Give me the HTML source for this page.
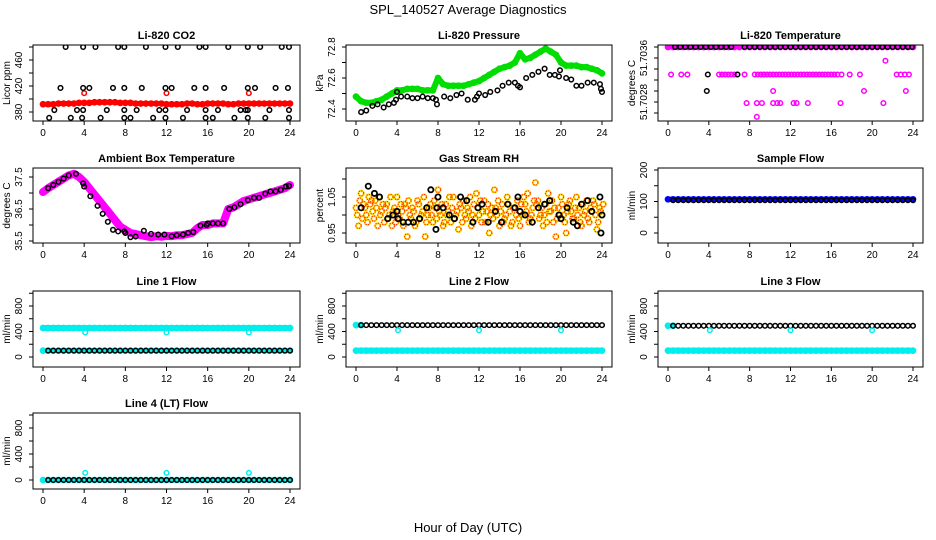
<!DOCTYPE html>
<html><head><meta charset="utf-8"><style>
html,body{margin:0;padding:0;background:#fff;}
svg{display:block;font-family:"Liberation Sans",sans-serif;}
</style></head><body>
<svg id="chart" width="936" height="540" viewBox="0 0 936 540" xmlns="http://www.w3.org/2000/svg">
<text x="468" y="14" text-anchor="middle" font-size="13">SPL_140527  Average Diagnostics</text>
<text x="468" y="532" text-anchor="middle" font-size="13">Hour of Day (UTC)</text>
</svg>
<script>
// ---------- data ----------
const xTicks=[0,4,8,12,16,20,24];
const co2RedValues=[392,392,392,393,393,393,393,394,394,394,395,395,395,395,395,394,394,394,393,393,393,393,393,393,392,392,392,392,393,393,392,392,393,393,393,393,392,392,393,393,393,393,393,393,393,393,393,393,393];
const co2RedOutHours=[4,12,20];
const co2RedOutValues=[409,409,409];
const co2BlackHours=[2.2,3.9,5.1,7.3,7.9,10.0,11.9,13.1,15.2,15.8,18.0,19.9,21.1,23.2,23.9, 1.7,3.9,4.5,6.8,7.9,9.6,11.9,12.5,14.7,15.8,17.6,19.9,20.6,22.6,23.8, 1.1,3.3,3.9,6.2,7.9,9.1,11.3,11.9,14.0,15.8,17.0,19.2,19.7,19.9,22.0,23.9, 0.6,2.7,3.8,5.6,7.9,8.5,10.7,11.9,13.6,15.8,16.5,18.6,19.9,21.6,23.9];
const co2BlackValues=[480,480,480,480,480,480,480,480,480,480,480,480,480,480,480, 417,417,417,417,417,417,417,417,417,417,417,417,417,417,417, 383,383,383,383,383,383,383,383,383,383,383,383,383,383,383,383, 371,371,371,371,371,371,371,371,371,371,371,371,371,371,371];
const presGreen=[72.48,72.45,72.44,72.44,72.45,72.46,72.48,72.50,72.52,72.52,72.53,72.53,72.53,72.52,72.52,72.52,72.60,72.56,72.55,72.55,72.55,72.55,72.56,72.57,72.58,72.60,72.62,72.64,72.66,72.67,72.68,72.70,72.76,72.72,72.73,72.75,72.77,72.79,72.77,72.75,72.70,72.68,72.68,72.68,72.67,72.67,72.66,72.65,72.63];
const presBlackHours=[0.5,1,1.6,2.1,2.7,3.2,3.7,3.9,4,4.4,5,5.5,6,6.5,7,7.5,7.8,7.9,8.6,9.2,9.8,10.3,10.9,11.6,11.8,12,12.6,13.1,13.8,14.3,14.9,15.5,15.8,16,16.6,17.2,17.8,18.4,18.9,19.4,19.8,19.9,20.5,21,21.5,22,22.6,23.2,23.8,23.9,24];
const presBlackValues=[72.38,72.39,72.42,72.43,72.41,72.43,72.44,72.46,72.51,72.48,72.48,72.47,72.47,72.48,72.47,72.47,72.46,72.43,72.48,72.47,72.49,72.50,72.46,72.46,72.48,72.50,72.49,72.51,72.52,72.55,72.57,72.57,72.55,72.54,72.60,72.62,72.64,72.66,72.62,72.62,72.61,72.65,72.60,72.59,72.55,72.55,72.57,72.57,72.56,72.53,72.51];
const tempTopValues=[51.7038,51.7038,51.7038,51.7038,51.7038,51.7038,51.7038,51.7038,51.7038,51.7038,51.7038,51.7038,51.7038,51.7038,51.7038,51.7038,51.7038,51.7038,51.7038,51.7038,51.7038,51.7038,51.7038,51.7038,51.7038,51.7038,51.7038,51.7038,51.7038,51.7038,51.7038,51.7038,51.7038,51.7038,51.7038,51.7038,51.7038,51.7038,51.7038,51.7038,51.7038,51.7038,51.7038,51.7038,51.7038,51.7038,51.7038,51.7038,51.7038];
const tempMagHours=[0.3,1.3,1.9,5.0,5.3,5.6,5.9,6.2,6.5,6.8,7.5,8.5,8.8,9.1,9.4,9.7,10.0,10.3,10.6,10.9,11.2,11.5,11.8,12.1,12.4,12.7,13.0,13.3,13.6,13.9,14.2,14.5,14.8,15.1,15.4,15.7,16.0,16.3,16.6,17.0,17.8,18.8,22.4,22.8,23.2,23.6,10.3,19.2,23.3,7.7,8.7,9.2,10.3,10.7,11.0,12.3,12.6,13.7,16.9,21.1,8.7,21.3];
const tempMagValues=[51.7033,51.7033,51.7033,51.7033,51.7033,51.7033,51.7033,51.7033,51.7033,51.7033,51.7033,51.7033,51.7033,51.7033,51.7033,51.7033,51.7033,51.7033,51.7033,51.7033,51.7033,51.7033,51.7033,51.7033,51.7033,51.7033,51.7033,51.7033,51.7033,51.7033,51.7033,51.7033,51.7033,51.7033,51.7033,51.7033,51.7033,51.7033,51.7033,51.7033,51.7033,51.7033,51.7033,51.7033,51.7033,51.7033,51.7030,51.7030,51.7030,51.70278,51.70278,51.70278,51.70278,51.70278,51.70278,51.70278,51.70278,51.70278,51.70278,51.70278,51.70253,51.70355];
const tempBlackHours=[0.7,1.2,1.7,2.2,2.7,3.2,3.7,4.2,4.7,5.2,5.7,6.2,7.5,8.0,8.5,9.0,9.5,10.0,10.5,11.0,11.5,12.0,12.5,13.0,13.5,14.0,14.5,15.0,15.5,16.0,16.5,17.0,17.5,18.0,18.5,19.0,19.5,20.0,20.5,21.0,21.5,22.0,22.5,23.0,23.5,23.9,3.9,6.8,3.8];
const tempBlackValues=[51.7038,51.7038,51.7038,51.7038,51.7038,51.7038,51.7038,51.7038,51.7038,51.7038,51.7038,51.7038,51.7038,51.7038,51.7038,51.7038,51.7038,51.7038,51.7038,51.7038,51.7038,51.7038,51.7038,51.7038,51.7038,51.7038,51.7038,51.7038,51.7038,51.7038,51.7038,51.7038,51.7038,51.7038,51.7038,51.7038,51.7038,51.7038,51.7038,51.7038,51.7038,51.7038,51.7038,51.7038,51.7038,51.7038,51.7033,51.7033,51.7030];
const ambMagenta=[37.03,37.15,37.25,37.35,37.45,37.55,37.60,37.50,37.35,37.15,36.95,36.75,36.55,36.35,36.15,35.95,35.85,35.75,35.72,35.68,35.65,35.62,35.65,35.63,35.66,35.65,35.68,35.68,35.72,35.75,35.9,36.0,36.0,36.05,36.05,36.05,36.5,36.55,36.65,36.75,36.8,36.85,36.9,36.95,37.0,37.05,37.1,37.15,37.25];
const ambBlackHours=[0.5,1,1.5,2,2.5,3.2,3.9,4.0,4.6,5.3,5.8,6.3,6.8,7.3,7.9,8.0,8.5,9.0,9.8,10.5,11.2,11.8,12.5,13.0,13.6,14.1,14.6,15.3,15.9,16.0,16.5,17.0,17.5,18.1,18.6,19.2,19.9,20.5,21.0,21.6,22.1,22.6,23.1,23.6,23.9];
const ambBlackValues=[37.15,37.25,37.35,37.45,37.55,37.6,37.3,37.2,36.9,36.6,36.35,36.1,35.85,35.8,35.8,35.75,35.62,35.64,35.82,35.72,35.70,35.7,35.65,35.68,35.7,35.75,35.78,35.98,36.0,36.05,36.05,36.05,36.05,36.5,36.55,36.65,36.78,36.85,36.85,36.98,37.05,37.05,37.1,37.2,37.22];
const rhValues=[1.02,0.97,1.06,1.03,1.00,1.05,1.04,0.99,1.02,1.05,1.01,0.98,1.03,1.00,0.97,1.02,1.05,0.99,1.01,1.03,0.94,1.00,1.02,0.97,1.04,0.99,1.01,0.94,1.00,1.03,0.98,1.02,1.07,1.00,0.97,1.03,1.01,0.98,1.05,1.00,0.96,1.02,1.04,0.99,1.01,0.97,1.03,1.06,1.00,0.98,1.04,1.01,0.95,1.02,1.07,1.00,0.97,1.03,0.99,1.05,1.01,0.98,1.02,1.04,0.97,1.00,1.03,1.06,0.99,1.02,1.09,1.04,1.00,0.97,1.03,1.06,1.01,0.98,0.94,1.02,1.05,1.00,0.95,1.03,1.01,0.99,1.05,1.02,0.97,1.00,1.04,0.98,1.01,1.03,0.96,1.02,1.00];
const rhValues2=[1.00,1.04,0.99,1.02,0.98,1.03,1.01,1.04,0.97,1.00,1.03,1.02,0.99,1.05,1.01,0.98,1.00,1.03,0.97,1.02,1.04,0.99,1.01,0.98,1.03,1.00,1.05,0.98,1.02,1.00,1.04,0.99,1.01,1.03,0.98,1.00,1.05,1.02,0.99,1.01,1.03,0.98,1.00,1.02,1.05,1.00,0.99,1.02,1.04,1.01,0.98,1.03,1.00,0.99,1.02,1.04,1.01,0.98,1.00,1.03,0.97,1.02,1.00,0.99,1.03,1.05,1.01,0.98,1.00,1.04,1.03,0.99,1.02,1.00,0.98,1.01,1.04,1.02,0.99,1.00,1.03,0.98,1.01,1.04,0.99,1.02,1.00,0.98,1.03,1.01,0.99,1.02,1.04,1.00,0.98,1.01,1.03];
const rhBlackHours=[0.5,1.2,1.8,2.3,3.1,3.6,4.0,4.1,4.6,5.1,5.6,6.2,6.9,7.3,7.8,7.9,8.0,8.5,9.1,9.6,10.2,10.8,11.4,11.9,12.3,12.9,13.6,14.2,14.8,15.5,15.8,16.0,16.5,17.2,17.8,18.4,18.9,19.8,20.0,20.6,21.2,21.6,22.0,22.6,23.0,23.8,23.9,24.0];
const rhBlackValues=[1.02,1.08,1.06,1.05,0.99,1.00,1.01,0.99,0.98,0.98,0.98,0.99,1.02,1.07,0.96,1.02,1.05,1.02,1.00,0.99,1.05,1.04,0.98,1.02,1.03,0.98,1.01,0.98,1.03,1.02,1.05,1.01,1.00,0.98,1.02,1.03,1.04,1.00,0.99,1.02,0.98,0.97,1.03,1.04,1.01,1.05,0.95,1.00];
const sampleBlue=[107,107,107,107,107,107,107,107,107,107,107,107,107,107,107,107,107,107,107,107,107,107,107,107,107,107,107,107,107,107,107,107,107,107,107,107,107,107,107,107,107,107,107,107,107,107,107,107,107];
const sampleBlack=[104,104,104,104,104,104,104,104,104,104,104,104,104,104,104,104,104,104,104,104,104,104,104,104,104,104,104,104,104,104,104,104,104,104,104,104,104,104,104,104,104,104,104,104,104,104,104,104];
const line1CyanHigh=[455,455,455,455,455,455,455,455,455,455,455,455,455,455,455,455,455,455,455,455,455,455,455,455,455,455,455,455,455,455,455,455,455,455,455,455,455,455,455,455,455,455,455,455,455,455,455,455,455];
const line1CyanLow=[100,100,100,100,100,100,100,100,100,100,100,100,100,100,100,100,100,100,100,100,100,100,100,100,100,100,100,100,100,100,100,100,100,100,100,100,100,100,100,100,100,100,100,100,100,100,100,100,100];
const line1Black=[100,100,100,100,100,100,100,100,100,100,100,100,100,100,100,100,100,100,100,100,100,100,100,100,100,100,100,100,100,100,100,100,100,100,100,100,100,100,100,100,100,100,100,100,100,100,100,100];
const line1OutValues=[385,385,385];
const line2CyanHigh=[500,500];
const line2CyanLow=[100,100,100,100,100,100,100,100,100,100,100,100,100,100,100,100,100,100,100,100,100,100,100,100,100,100,100,100,100,100,100,100,100,100,100,100,100,100,100,100,100,100,100,100,100,100,100,100,100];
const line2Black=[500,500,500,500,500,500,500,500,500,500,500,500,500,500,500,500,500,500,500,500,500,500,500,500,500,500,500,500,500,500,500,500,500,500,500,500,500,500,500,500,500,500,500,500,500,500,500,500];
const line2OutValues=[420,420,420];
const line3CyanHigh=[490,490];
const line3CyanLow=[100,100,100,100,100,100,100,100,100,100,100,100,100,100,100,100,100,100,100,100,100,100,100,100,100,100,100,100,100,100,100,100,100,100,100,100,100,100,100,100,100,100,100,100,100,100,100,100,100];
const line3Black=[490,490,490,490,490,490,490,490,490,490,490,490,490,490,490,490,490,490,490,490,490,490,490,490,490,490,490,490,490,490,490,490,490,490,490,490,490,490,490,490,490,490,490,490,490,490,490,490];
const line3OutValues=[420,420,420];
const line4Cyan=[0,0,0,0,0,0,0,0,0,0,0,0,0,0,0,0,0,0,0,0,0,0,0,0,0,0,0,0,0,0,0,0,0,0,0,0,0,0,0,0,0,0,0,0,0,0,0,0,0];
const line4Black=[0,0,0,0,0,0,0,0,0,0,0,0,0,0,0,0,0,0,0,0,0,0,0,0,0,0,0,0,0,0,0,0,0,0,0,0,0,0,0,0,0,0,0,0,0,0,0,0];
const line4OutValues=[110,110,110];
const flowOutHours=[4.1,12.0,20.0];

// ---------- drawing ----------
const svg=document.getElementById('chart');
const NS='http://www.w3.org/2000/svg';
let clipN=0;
function mk(tag,attrs,parent){const e=document.createElementNS(NS,tag);for(const k in attrs)e.setAttribute(k,attrs[k]);(parent||svg).appendChild(e);return e;}

function panel(name,title,box,yv1,yp1,yv2,yp2,yTicks,yLabels,yTitle){
  const [l,t,r,b]=box;
  const g=mk('g',{});
  
  
  const x=h=>l+10+h*(r-l-20)/24;
  const y=v=>yp1+(v-yv1)*(yp2-yp1)/(yv2-yv1);
  const tt=mk('text',{x:(l+r)/2,y:t-6,'text-anchor':'middle','font-size':11,'font-weight':'bold'},g);
  tt.textContent=title;
  
  
  const id='clip'+(clipN++);
  const cp=mk('clipPath',{id:id},g);mk('rect',{x:l,y:t,width:r-l,height:b-t},cp);
  const plot=mk('g',{'clip-path':'url(#'+id+')'},g);
  
  
  const bx=mk('rect',{x:l,y:t,width:r-l,height:b-t,fill:'none',stroke:'#000','stroke-width':1},g);
  
  
  const xa=mk('g',{},g);
  
  
  xTicks.forEach(h=>{
    mk('line',{x1:x(h),x2:x(h),y1:b,y2:b+4,stroke:'#000'},xa);
    const tx=mk('text',{x:x(h),y:b+15,'text-anchor':'middle','font-size':10},xa);
    tx.textContent=h;
    
    
  });
  const ya=mk('g',{},g);
  
  
  yTicks.forEach(v=>{mk('line',{x1:l-4,x2:l,y1:y(v),y2:y(v),stroke:'#000'},ya);});
  yLabels.forEach(v=>{
    const tx=mk('text',{x:l-11,y:y(v),'text-anchor':'middle','font-size':10,transform:'rotate(-90 '+(l-11)+' '+y(v)+')'},ya);
    tx.textContent=v;
    
    
  });
  const yt=mk('text',{x:l-23,y:(t+b)/2,'text-anchor':'middle','font-size':10,transform:'rotate(-90 '+(l-23)+' '+((t+b)/2)+')'},g);
  yt.textContent=yTitle;
  
  
  return {x,y,plot};
}
function pts(P,name,hours,vals,color,r,sw){
  const g=mk('g',{},P.plot);
  
  
  vals.forEach((v,i)=>{
    const c=mk('circle',{cx:P.x(hours[i]),cy:P.y(v),r:r||2.3,fill:'none',stroke:color,'stroke-width':sw||1.5},g);
    
    
  });
  return g;
}
function band(P,name,hours,vals,color,w){
  const p=mk('polyline',{points:vals.map((v,i)=>P.x(hours[i])+','+P.y(v)).join(' '),fill:'none',stroke:color,'stroke-width':w,'stroke-linecap':'round','stroke-linejoin':'round'},P.plot);
  
  
  pts(P,name,hours,vals,color,2.6,1.5);
}
const gridHours=n=>Array.from({length:n},(_,i)=>i*0.5);
const gridHoursFrom=(n,s)=>Array.from({length:n},(_,i)=>s+i*0.5);

const C1=[33,300],C2=[346,612],C3=[658,923];
const R1=[45,121],R2=[168,243],R3=[291,367],R4=[413,489];

// Panel 1 CO2
let P=panel('co2','Li-820 CO2',[C1[0],R1[0],C1[1],R1[1]],380,112,460,60,[380,400,420,440,460,480],[380,420,460],'Licor ppm');
band(P,'co2-red',gridHours(co2RedValues.length),co2RedValues,'#ff0000',5);
pts(P,'co2-red-outlier',co2RedOutHours,co2RedOutValues,'#ff0000');
pts(P,'co2-black',co2BlackHours,co2BlackValues,'#000');

// Panel 2 Pressure
P=panel('pressure','Li-820 Pressure',[C2[0],R1[0],C2[1],R1[1]],72.4,109,72.8,47,[72.4,72.5,72.6,72.7,72.8],['72.4','72.6','72.8'],'kPa');
band(P,'pressure-green',gridHours(presGreen.length),presGreen,'#00dd00',6);
pts(P,'pressure-black',presBlackHours,presBlackValues,'#000');

// Panel 3 Li-820 Temperature
P=panel('li820-temp','Li-820 Temperature',[C3[0],R1[0],C3[1],R1[1]],51.7036,58,51.7028,102,[51.7026,51.7028,51.7030,51.7032,51.7034,51.7036,51.7038],['51.7028','51.7036'],'degrees C');
band(P,'temp-magenta-top',gridHours(tempTopValues.length),tempTopValues,'#ff00ff',4);
pts(P,'temp-magenta',tempMagHours,tempMagValues,'#ff00ff');
pts(P,'temp-black',tempBlackHours,tempBlackValues,'#000');

// Panel 4 Ambient
P=panel('ambient','Ambient Box Temperature',[C1[0],R2[0],C1[1],R2[1]],35.5,241,37.5,177,[35.5,36,36.5,37,37.5],['35.5','36.5','37.5'],'degrees C');
band(P,'ambient-magenta',gridHours(ambMagenta.length),ambMagenta,'#ff00ff',8);
pts(P,'ambient-black',ambBlackHours,ambBlackValues,'#000');

// Panel 5 RH
P=panel('rh','Gas Stream RH',[C2[0],R2[0],C2[1],R2[1]],0.95,233,1.05,197,[0.95,1.0,1.05,1.1],['0.95','1.05'],'percent');
const rhH=Array.from({length:rhValues.length},(_,i)=>i*0.25);
const rhH2=Array.from({length:rhValues2.length},(_,i)=>0.12+i*0.25);
pts(P,'rh-yellow',rhH,rhValues,'#ffdd00',2.6,2);
pts(P,'rh-yellow-2',rhH2,rhValues2,'#ffdd00',2.6,2);
const rd=pts(P,'rh-red',rhH,rhValues,'#ff2a00',2.6,1.1);
rd.querySelectorAll('circle').forEach(c=>c.setAttribute('stroke-dasharray','1.2 1.2'));
const rd2=pts(P,'rh-red-2',rhH2,rhValues2,'#ff2a00',2.6,1.1);
rd2.querySelectorAll('circle').forEach(c=>c.setAttribute('stroke-dasharray','1.2 1.2'));
pts(P,'rh-black',rhBlackHours,rhBlackValues,'#000',2.6,1.8);

// Panel 6 Sample flow
P=panel('sample-flow','Sample Flow',[C3[0],R2[0],C3[1],R2[1]],0,233,200,170,[0,50,100,150,200],['0','100','200'],'ml/min');
band(P,'sample-blue',gridHours(sampleBlue.length),sampleBlue,'#0000ff',5);
pts(P,'sample-black',gridHoursFrom(sampleBlack.length,0.5),sampleBlack,'#000');

const flowTicks=[0,200,400,600,800,1000],flowLabels=['0','400','800'];
// Line 1
P=panel('line1','Line 1 Flow',[C1[0],R3[0],C1[1],R3[1]],0,357,800,306,flowTicks,flowLabels,'ml/min');
band(P,'line1-cyan-high',gridHours(line1CyanHigh.length),line1CyanHigh,'#00eeee',6);
band(P,'line1-cyan-low',gridHours(line1CyanLow.length),line1CyanLow,'#00eeee',5);
pts(P,'line1-black',gridHoursFrom(line1Black.length,0.5),line1Black,'#000');
pts(P,'line1-cyan-outlier',flowOutHours,line1OutValues,'#00eeee');
// Line 2
P=panel('line2','Line 2 Flow',[C2[0],R3[0],C2[1],R3[1]],0,357,800,306,flowTicks,flowLabels,'ml/min');
band(P,'line2-cyan-high',gridHours(line2CyanHigh.length),line2CyanHigh,'#00eeee',5);
band(P,'line2-cyan-low',gridHours(line2CyanLow.length),line2CyanLow,'#00eeee',6);
pts(P,'line2-black',gridHoursFrom(line2Black.length,0.5),line2Black,'#000');
pts(P,'line2-cyan-outlier',flowOutHours,line2OutValues,'#00eeee');
// Line 3
P=panel('line3','Line 3 Flow',[C3[0],R3[0],C3[1],R3[1]],0,357,800,306,flowTicks,flowLabels,'ml/min');
band(P,'line3-cyan-high',gridHours(line3CyanHigh.length),line3CyanHigh,'#00eeee',5);
band(P,'line3-cyan-low',gridHours(line3CyanLow.length),line3CyanLow,'#00eeee',6);
pts(P,'line3-black',gridHoursFrom(line3Black.length,0.5),line3Black,'#000');
pts(P,'line3-cyan-outlier',flowOutHours,line3OutValues,'#00eeee');
// Line 4
P=panel('line4','Line 4 (LT) Flow',[C1[0],R4[0],C1[1],R4[1]],0,480,800,428,flowTicks,flowLabels,'ml/min');
band(P,'line4-cyan',gridHours(line4Cyan.length),line4Cyan,'#00eeee',5);
pts(P,'line4-black',gridHoursFrom(line4Black.length,0.5),line4Black,'#000');
pts(P,'line4-cyan-outlier',flowOutHours,line4OutValues,'#00eeee');
</script>
</body></html>
